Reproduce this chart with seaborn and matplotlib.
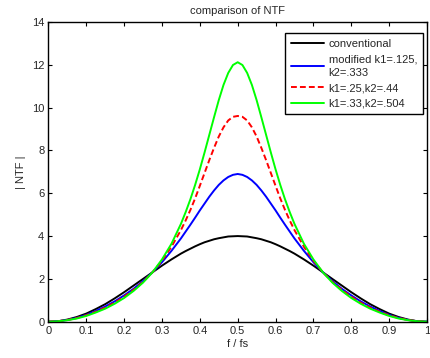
import matplotlib
matplotlib.use("Agg")
import matplotlib.pyplot as plt
import pandas as pd
import seaborn as sns

# normalised frequency f / fs (denser around the peak)
freq = [
    0.0, 0.025, 0.05, 0.075, 0.1, 0.125, 0.15, 0.175, 0.2, 0.225, 0.25,
    0.275, 0.3, 0.325, 0.35, 0.3625, 0.375, 0.3875, 0.4, 0.4125, 0.425,
    0.4375, 0.45, 0.4625, 0.475, 0.4875, 0.5,
    0.5125, 0.525, 0.5375, 0.55, 0.5625, 0.575, 0.5875, 0.6, 0.6125,
    0.625, 0.6375, 0.65, 0.675, 0.7, 0.725, 0.75,
    0.775, 0.8, 0.825, 0.85, 0.875, 0.9, 0.925, 0.95, 0.975, 1.0,
]

# |NTF|
conventional = [
    0.0, 0.02, 0.10, 0.22, 0.38, 0.59, 0.82, 1.09, 1.38, 1.69, 2.00,
    2.31, 2.62, 2.91, 3.18, 3.30, 3.41, 3.52, 3.62, 3.71, 3.78,
    3.85, 3.90, 3.94, 3.98, 3.99, 4.00,
    3.99, 3.98, 3.94, 3.90, 3.85, 3.78, 3.71, 3.62, 3.52,
    3.41, 3.30, 3.18, 2.91, 2.62, 2.31, 2.00,
    1.69, 1.38, 1.09, 0.82, 0.59, 0.38, 0.22, 0.10, 0.02, 0.0,
]
modified_125 = [
    0.0, 0.02, 0.08, 0.18, 0.32, 0.50, 0.71, 0.95, 1.23, 1.54, 1.90,
    2.31, 2.78, 3.31, 3.89, 4.21, 4.53, 4.86, 5.20, 5.52, 5.84,
    6.13, 6.39, 6.60, 6.76, 6.86, 6.90,
    6.86, 6.76, 6.60, 6.39, 6.13, 5.84, 5.52, 5.20, 4.86,
    4.53, 4.21, 3.89, 3.31, 2.78, 2.31, 1.90,
    1.54, 1.23, 0.95, 0.71, 0.50, 0.32, 0.18, 0.08, 0.02, 0.0,
]
modified_25 = [
    0.0, 0.02, 0.08, 0.17, 0.30, 0.46, 0.66, 0.89, 1.17, 1.49, 1.86,
    2.31, 2.85, 3.50, 4.28, 4.73, 5.22, 5.76, 6.35, 6.95, 7.55,
    8.12, 8.65, 9.08, 9.40, 9.57, 9.61,
    9.57, 9.40, 9.08, 8.65, 8.12, 7.55, 6.95, 6.35, 5.76,
    5.22, 4.73, 4.28, 3.50, 2.85, 2.31, 1.86,
    1.49, 1.17, 0.89, 0.66, 0.46, 0.30, 0.17, 0.08, 0.02, 0.0,
]
modified_33 = [
    0.0, 0.02, 0.07, 0.15, 0.27, 0.43, 0.61, 0.84, 1.11, 1.44, 1.83,
    2.31, 2.91, 3.64, 4.57, 5.12, 5.72, 6.39, 7.12, 7.91, 8.73,
    9.55, 10.35, 11.06, 11.62, 11.99, 12.12,
    11.99, 11.62, 11.06, 10.35, 9.55, 8.73, 7.91, 7.12, 6.39,
    5.72, 5.12, 4.57, 3.64, 2.91, 2.31, 1.83,
    1.44, 1.11, 0.84, 0.61, 0.43, 0.27, 0.15, 0.07, 0.02, 0.0,
]

labels = [
    "conventional",
    "modified k1=.125,\nk2=.333",
    "k1=.25,k2=.44",
    "k1=.33,k2=.504",
]
x_ticks = [0, 0.1, 0.2, 0.3, 0.4, 0.5, 0.6, 0.7, 0.8, 0.9, 1]
x_tick_labels = ["0", "0.1", "0.2", "0.3", "0.4", "0.5", "0.6", "0.7", "0.8", "0.9", "1"]
y_ticks = [0, 2, 4, 6, 8, 10, 12, 14]

sns.set_style("ticks")
plt.rcParams["font.family"] = ["Liberation Sans", "DejaVu Sans"]
plt.rcParams["font.size"] = 8

fig = plt.figure(figsize=(4.31, 3.58), dpi=100)
ax = fig.add_axes([0.1125, 0.1014, 0.878, 0.8372])

series = [conventional, modified_125, modified_25, modified_33]
colors = ["black", "#0000ff", "#ff0000", "#00ff00"]
styles = ["-", "-", (0, (3, 1.6)), "-"]
for vals, lab, col, ls in zip(series, labels, colors, styles):
    df = pd.DataFrame({"f": freq, "ntf": vals})
    sns.lineplot(data=df, x="f", y="ntf", ax=ax, color=col, linestyle=ls,
                 linewidth=1.4, label=lab)

ax.set_xlim(0, 1)
ax.set_ylim(0, 14)
ax.set_xticks(x_ticks)
ax.set_xticklabels(x_tick_labels)
ax.set_yticks(y_ticks)
ax.tick_params(direction="in", length=3, width=0.8, top=True, right=True,
               labelsize=8, pad=3, colors="black", labelcolor="#262626")
for sp in ax.spines.values():
    sp.set_visible(True)
    sp.set_linewidth(1.0)
    sp.set_color("black")

ax.set_title("comparison of NTF", fontsize=8, pad=6)
ax.set_xlabel("f / fs", fontsize=8, labelpad=2)
ax.set_ylabel("| NTF |", fontsize=8, labelpad=4)

leg = ax.legend(loc="upper right", bbox_to_anchor=(0.989, 0.963),
                borderaxespad=0, fontsize=8, frameon=True, fancybox=False,
                edgecolor="black", framealpha=1, handlelength=3.0,
                labelspacing=0.5, handletextpad=0.4, borderpad=0.5)
leg.get_frame().set_linewidth(1.0)
for t in leg.get_texts():
    t.set_linespacing(1.45)

fig.savefig("out.png", dpi=100)
